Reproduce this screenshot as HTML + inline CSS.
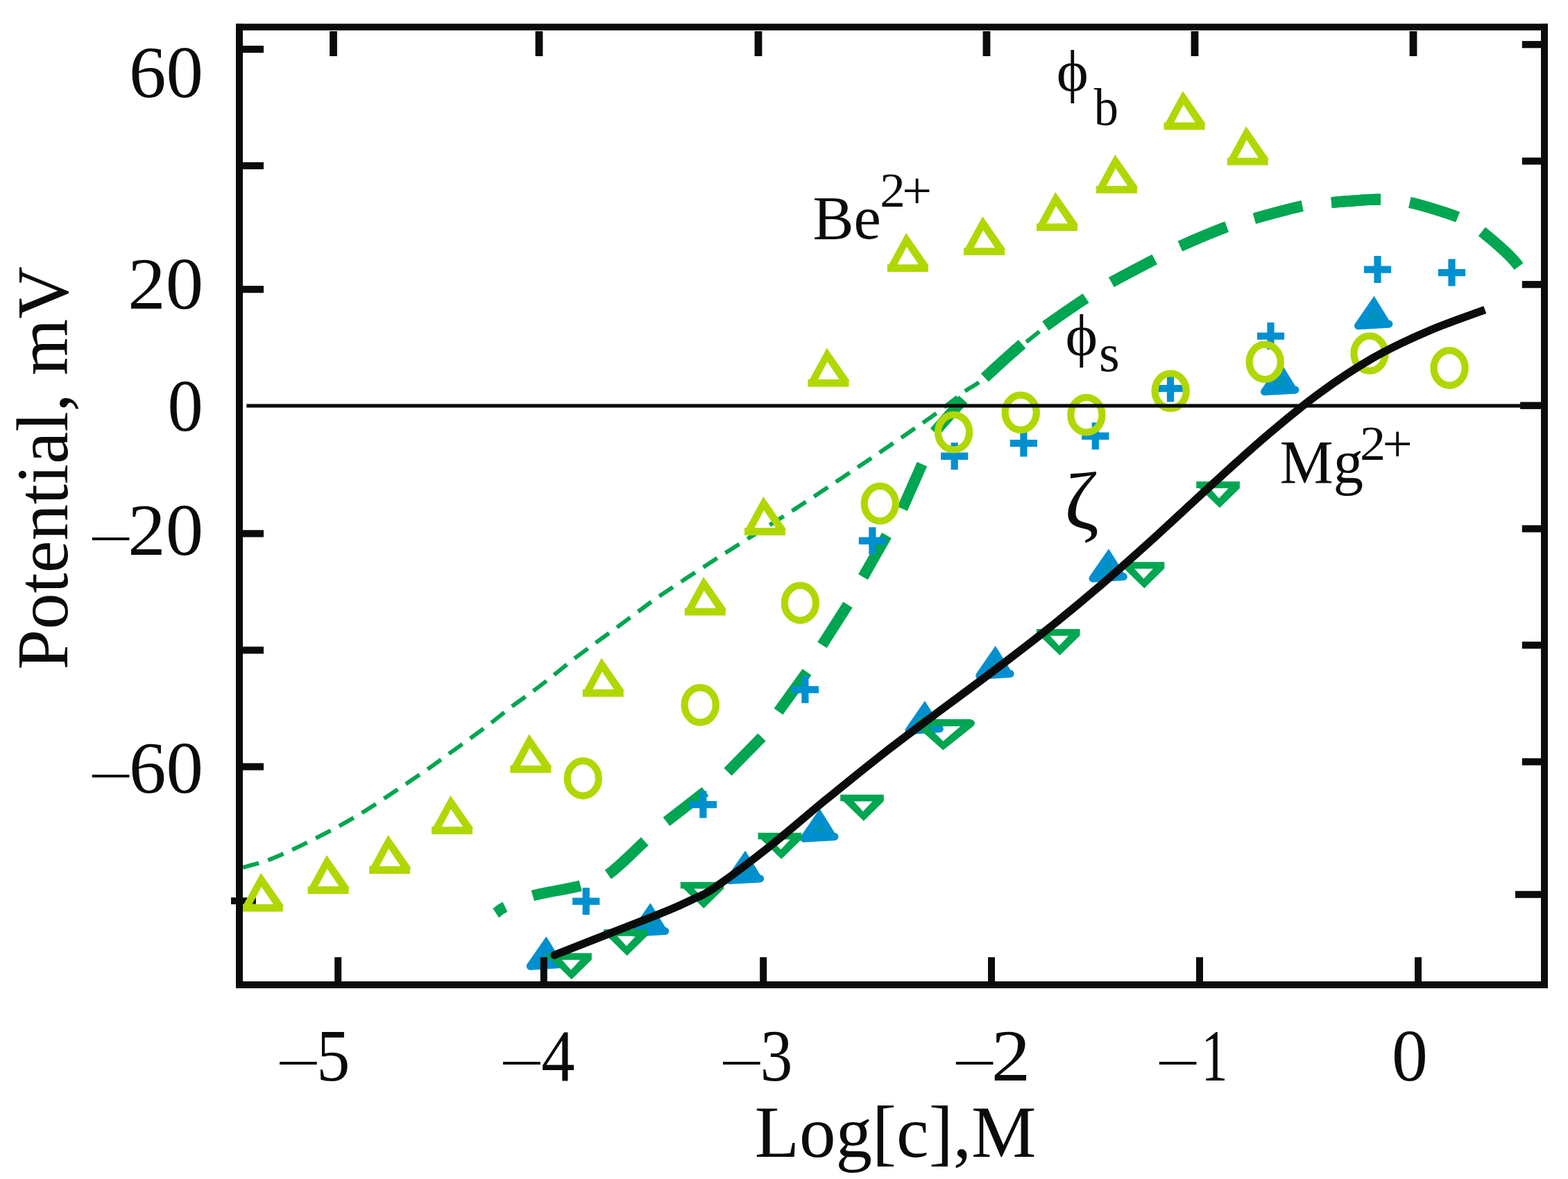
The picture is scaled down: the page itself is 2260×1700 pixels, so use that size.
<!DOCTYPE html>
<html lang="en"><head><meta charset="utf-8"><title>Potential vs Log[c]</title>
<style>html,body{margin:0;padding:0;background:#fff}body{width:2260px;height:1700px;overflow:hidden}svg{display:block}text{font-family:"Liberation Serif","DejaVu Serif",serif;font-kerning:none;white-space:pre}</style>
</head><body>
<svg width="2260" height="1700" viewBox="0 0 2260 1700" role="img" aria-label="Potential (mV) versus Log[c], M for Be2+ and Mg2+">
<rect width="2260" height="1700" fill="#fff"/>
<g fill="none" stroke="#00a651" stroke-width="15.8">
<path d="M714.8,1316.6C717.0,1315.1 719.2,1311.8 728.0,1307.6"/>
<path d="M767.8,1291.5C785.9,1286.4 818.6,1282.2 836.7,1277.1"/>
<path d="M876.3,1261.1C891.7,1250.4 915.3,1225.9 929.3,1213.2"/>
<path d="M960.5,1184.8L1016.5,1141.3"/>
<path d="M1049.0,1113.0L1098.0,1063.0"/>
<path d="M1122.0,1026.0L1163.0,969.0"/>
<path d="M1185.0,930.0L1222.0,872.0"/>
<path d="M1244.0,832.0L1278.0,772.0"/>
<path d="M1300.6,733.6L1329.0,669.3"/>
<path d="M1347.0,623.0L1388.0,576.0"/>
<path d="M1419.5,544.5C1433.7,531.2 1458.4,508.7 1473.0,496.3"/>
<path d="M1507.0,470.0C1522.3,458.9 1549.2,440.5 1565.0,430.0"/>
<path d="M1602.0,407.0C1618.5,397.7 1647.5,382.7 1664.0,374.0"/>
<path d="M1701.0,355.0C1718.3,347.2 1750.2,333.7 1768.0,327.0"/>
<path d="M1808.0,315.0C1826.2,310.0 1858.5,300.8 1877.0,297.0"/>
<path d="M1919.0,292.0C1937.8,290.4 1971.2,287.5 1990.0,287.5"/>
<path d="M2032.0,292.0C2050.5,296.2 2083.7,306.0 2101.0,313.0"/>
<path d="M2136.0,334.0C2150.7,345.8 2175.7,366.0 2189.0,384.0"/>
</g>
<path fill="none" stroke="#00a651" stroke-width="6" stroke-dasharray="24 13.9" stroke-dashoffset="0" d="M350.0,1250.9C356.1,1249.1 374.8,1244.4 386.7,1240.1C398.6,1235.8 410.1,1230.3 421.4,1225.1C432.7,1219.9 443.3,1214.6 454.5,1208.9C465.7,1203.2 477.5,1197.3 488.6,1191.2C499.7,1185.1 510.5,1178.8 521.2,1172.2C531.9,1165.7 542.4,1158.8 552.9,1151.9C563.4,1145.0 573.7,1138.0 584.1,1131.0C594.5,1124.0 604.9,1117.2 615.3,1109.9C625.7,1102.6 636.2,1094.8 646.5,1087.3C656.8,1079.8 667.0,1072.5 677.2,1065.1C687.4,1057.6 697.5,1050.3 707.5,1042.6C717.5,1034.9 727.2,1026.7 737.4,1019.0C747.6,1011.3 758.4,1004.1 768.5,996.5C778.6,988.9 788.6,981.1 798.3,973.4C808.0,965.7 816.8,958.1 826.8,950.4C836.8,942.7 847.8,934.8 858.0,927.3C868.2,919.8 877.6,913.1 887.8,905.6C898.0,898.1 908.5,890.2 919.0,882.5C929.5,874.8 935.0,870.1 950.9,859.2C966.8,848.3 993.6,830.9 1014.6,817.2C1035.6,803.6 1056.0,790.6 1077.0,777.3C1098.0,764.0 1119.5,750.9 1140.7,737.2C1162.0,723.5 1183.5,709.1 1204.5,695.1C1225.5,681.1 1246.0,667.3 1266.9,653.1C1287.8,638.9 1316.1,619.4 1330.1,609.7C1344.1,600.0 1340.7,602.5 1350.9,594.8C1361.2,587.1 1381.6,570.8 1391.6,563.6C1401.5,556.4 1401.7,558.5 1410.6,551.4C1419.5,544.3 1433.7,530.4 1445.0,520.8C1456.3,511.2 1469.5,501.0 1478.7,493.6C1487.9,486.2 1496.5,479.4 1500.0,476.5"/>
<g fill="none" stroke="#00a651" stroke-width="15.8">
<path d="M1347.0,623.0L1388.0,576.0"/>
<path d="M1419.5,544.5C1433.7,531.2 1458.4,508.7 1473.0,496.3"/>
<path d="M1507.0,470.0C1522.3,458.9 1549.2,440.5 1565.0,430.0"/>
<path d="M1602.0,407.0C1618.5,397.7 1647.5,382.7 1664.0,374.0"/>
<path d="M1701.0,355.0C1718.3,347.2 1750.2,333.7 1768.0,327.0"/>
<path d="M1808.0,315.0C1826.2,310.0 1858.5,300.8 1877.0,297.0"/>
<path d="M1919.0,292.0C1937.8,290.4 1971.2,287.5 1990.0,287.5"/>
<path d="M2032.0,292.0C2050.5,296.2 2083.7,306.0 2101.0,313.0"/>
<path d="M2136.0,334.0C2150.7,345.8 2175.7,366.0 2189.0,384.0"/>
</g>
<rect x="333.10" y="1294.20" width="35.80" height="9.50" fill="#0a0c0b"/>
<g fill="#b0d800">
<path fill-rule="evenodd" transform="translate(348.8,1314.6)" d="M0,0 L0,-10.8 L2.6,-10.8 L27.2,-56 L59.9,-9 L58.9,-7.6 L58.9,0 Z M14.6,-10.8 L28,-36.1 L45.1,-10.8 Z"/>
<path fill-rule="evenodd" transform="translate(443.6,1288.9)" d="M0,0 L0,-10.8 L2.6,-10.8 L27.2,-56 L59.9,-9 L58.9,-7.6 L58.9,0 Z M14.6,-10.8 L28,-36.1 L45.1,-10.8 Z"/>
<path fill-rule="evenodd" transform="translate(532.2,1259.9)" d="M0,0 L0,-10.8 L2.6,-10.8 L27.2,-56 L59.9,-9 L58.9,-7.6 L58.9,0 Z M14.6,-10.8 L28,-36.1 L45.1,-10.8 Z"/>
<path fill-rule="evenodd" transform="translate(622.1,1202.9)" d="M0,0 L0,-10.8 L2.6,-10.8 L27.2,-56 L59.9,-9 L58.9,-7.6 L58.9,0 Z M14.6,-10.8 L28,-36.1 L45.1,-10.8 Z"/>
<path fill-rule="evenodd" transform="translate(735.4,1114.6)" d="M0,0 L0,-10.8 L2.6,-10.8 L27.2,-56 L59.9,-9 L58.9,-7.6 L58.9,0 Z M14.6,-10.8 L28,-36.1 L45.1,-10.8 Z"/>
<path fill-rule="evenodd" transform="translate(839.8,1004.7)" d="M0,0 L0,-10.8 L2.6,-10.8 L27.2,-56 L59.9,-9 L58.9,-7.6 L58.9,0 Z M14.6,-10.8 L28,-36.1 L45.1,-10.8 Z"/>
<path fill-rule="evenodd" transform="translate(986.8,887.6)" d="M0,0 L0,-10.8 L2.6,-10.8 L27.2,-56 L59.9,-9 L58.9,-7.6 L58.9,0 Z M14.6,-10.8 L28,-36.1 L45.1,-10.8 Z"/>
<path fill-rule="evenodd" transform="translate(1073.0,771.9)" d="M0,0 L0,-10.8 L2.6,-10.8 L27.2,-56 L59.9,-9 L58.9,-7.6 L58.9,0 Z M14.6,-10.8 L28,-36.1 L45.1,-10.8 Z"/>
<path fill-rule="evenodd" transform="translate(1164.5,557.8)" d="M0,0 L0,-10.8 L2.6,-10.8 L27.2,-56 L59.9,-9 L58.9,-7.6 L58.9,0 Z M14.6,-10.8 L28,-36.1 L45.1,-10.8 Z"/>
<path fill-rule="evenodd" transform="translate(1278.8,392.0)" d="M0,0 L0,-10.8 L2.6,-10.8 L27.2,-56 L59.9,-9 L58.9,-7.6 L58.9,0 Z M14.6,-10.8 L28,-36.1 L45.1,-10.8 Z"/>
<path fill-rule="evenodd" transform="translate(1389.0,368.0)" d="M0,0 L0,-10.8 L2.6,-10.8 L27.2,-56 L59.9,-9 L58.9,-7.6 L58.9,0 Z M14.6,-10.8 L28,-36.1 L45.1,-10.8 Z"/>
<path fill-rule="evenodd" transform="translate(1494.0,333.0)" d="M0,0 L0,-10.8 L2.6,-10.8 L27.2,-56 L59.9,-9 L58.9,-7.6 L58.9,0 Z M14.6,-10.8 L28,-36.1 L45.1,-10.8 Z"/>
<path fill-rule="evenodd" transform="translate(1580.0,278.8)" d="M0,0 L0,-10.8 L2.6,-10.8 L27.2,-56 L59.9,-9 L58.9,-7.6 L58.9,0 Z M14.6,-10.8 L28,-36.1 L45.1,-10.8 Z"/>
<path fill-rule="evenodd" transform="translate(1677.6,187.2)" d="M0,0 L0,-10.8 L2.6,-10.8 L27.2,-56 L59.9,-9 L58.9,-7.6 L58.9,0 Z M14.6,-10.8 L28,-36.1 L45.1,-10.8 Z"/>
<path fill-rule="evenodd" transform="translate(1768.8,238.2)" d="M0,0 L0,-10.8 L2.6,-10.8 L27.2,-56 L59.9,-9 L58.9,-7.6 L58.9,0 Z M14.6,-10.8 L28,-36.1 L45.1,-10.8 Z"/>
</g>
<g fill="#0090d0">
<path transform="translate(844.7,1299.6)" d="M-5.1,-19.5 H5.1 V-5.1 H19.6 V5.2 H5.1 V19.5 H-5.1 V5.2 H-19.6 V-5.1 H-5.1 Z"/>
<path transform="translate(1013.4,1160.0)" d="M-5.1,-19.5 H5.1 V-5.1 H19.6 V5.2 H5.1 V19.5 H-5.1 V5.2 H-19.6 V-5.1 H-5.1 Z"/>
<path transform="translate(1160.4,994.3)" d="M-5.1,-19.5 H5.1 V-5.1 H19.6 V5.2 H5.1 V19.5 H-5.1 V5.2 H-19.6 V-5.1 H-5.1 Z"/>
<path transform="translate(1257.4,779.7)" d="M-5.1,-19.5 H5.1 V-5.1 H19.6 V5.2 H5.1 V19.5 H-5.1 V5.2 H-19.6 V-5.1 H-5.1 Z"/>
<path transform="translate(1375.7,657.7)" d="M-5.1,-19.5 H5.1 V-5.1 H19.6 V5.2 H5.1 V19.5 H-5.1 V5.2 H-19.6 V-5.1 H-5.1 Z"/>
<path transform="translate(1475.4,639.0)" d="M-5.1,-19.5 H5.1 V-5.1 H19.6 V5.2 H5.1 V19.5 H-5.1 V5.2 H-19.6 V-5.1 H-5.1 Z"/>
<path transform="translate(1578.8,628.7)" d="M-5.1,-19.5 H5.1 V-5.1 H19.6 V5.2 H5.1 V19.5 H-5.1 V5.2 H-19.6 V-5.1 H-5.1 Z"/>
<path transform="translate(1687.0,560.0)" d="M-5.1,-19.5 H5.1 V-5.1 H19.6 V5.2 H5.1 V19.5 H-5.1 V5.2 H-19.6 V-5.1 H-5.1 Z"/>
<path transform="translate(1831.5,484.5)" d="M-5.1,-19.5 H5.1 V-5.1 H19.6 V5.2 H5.1 V19.5 H-5.1 V5.2 H-19.6 V-5.1 H-5.1 Z"/>
<path transform="translate(1985.5,388.5)" d="M-5.1,-19.5 H5.1 V-5.1 H19.6 V5.2 H5.1 V19.5 H-5.1 V5.2 H-19.6 V-5.1 H-5.1 Z"/>
<path transform="translate(2092.5,393.0)" d="M-5.1,-19.5 H5.1 V-5.1 H19.6 V5.2 H5.1 V19.5 H-5.1 V5.2 H-19.6 V-5.1 H-5.1 Z"/>
</g>
<g transform="translate(787.3,1350.2)"><path fill="#0090d0" d="M0,0 L-27.2,39.4 L-23,43 L21.4,40.4 L21.3,34.4 Z"/><path fill="none" stroke="#0090d0" stroke-width="11" stroke-linecap="round" d="M-23,43 L21.4,40.4"/><path fill="#0093b8" d="M-0.8,19 L-10.5,34.2 L8.5,34.2 Z"/></g>
<g transform="translate(937.4,1302.1)"><path fill="#0090d0" d="M0,0 L-27.2,39.4 L-23,43 L21.4,40.4 L21.3,34.4 Z"/><path fill="none" stroke="#0090d0" stroke-width="11" stroke-linecap="round" d="M-23,43 L21.4,40.4"/><path fill="#0093b8" d="M-0.8,19 L-10.5,34.2 L8.5,34.2 Z"/></g>
<g transform="translate(1074.2,1226.5)"><path fill="#0090d0" d="M0,0 L-27.2,39.4 L-23,43 L21.4,40.4 L21.3,34.4 Z"/><path fill="none" stroke="#0090d0" stroke-width="11" stroke-linecap="round" d="M-23,43 L21.4,40.4"/><path fill="#0093b8" d="M-0.8,19 L-10.5,34.2 L8.5,34.2 Z"/></g>
<g transform="translate(1181.6,1166.0)"><path fill="#0090d0" d="M0,0 L-27.2,39.4 L-23,43 L21.4,40.4 L21.3,34.4 Z"/><path fill="none" stroke="#0090d0" stroke-width="11" stroke-linecap="round" d="M-23,43 L21.4,40.4"/><path fill="#0093b8" d="M-0.8,19 L-10.5,34.2 L8.5,34.2 Z"/></g>
<g transform="translate(1333.0,1010.4)"><path fill="#0090d0" d="M0,0 L-27.2,39.4 L-23,43 L21.4,40.4 L21.3,34.4 Z"/><path fill="none" stroke="#0090d0" stroke-width="11" stroke-linecap="round" d="M-23,43 L21.4,40.4"/><path fill="#0093b8" d="M-0.8,19 L-10.5,34.2 L8.5,34.2 Z"/></g>
<g transform="translate(1434.8,931.2)"><path fill="#0090d0" d="M0,0 L-27.2,39.4 L-23,43 L21.4,40.4 L21.3,34.4 Z"/><path fill="none" stroke="#0090d0" stroke-width="11" stroke-linecap="round" d="M-23,43 L21.4,40.4"/><path fill="#0093b8" d="M-0.8,19 L-10.5,34.2 L8.5,34.2 Z"/></g>
<g transform="translate(1598.0,791.2)"><path fill="#0090d0" d="M0,0 L-27.2,39.4 L-23,43 L21.4,40.4 L21.3,34.4 Z"/><path fill="none" stroke="#0090d0" stroke-width="11" stroke-linecap="round" d="M-23,43 L21.4,40.4"/><path fill="#0093b8" d="M-0.8,19 L-10.5,34.2 L8.5,34.2 Z"/></g>
<g transform="translate(1845.5,521.8)"><path fill="#0090d0" d="M0,0 L-27.2,39.4 L-23,43 L21.4,40.4 L21.3,34.4 Z"/><path fill="none" stroke="#0090d0" stroke-width="11" stroke-linecap="round" d="M-23,43 L21.4,40.4"/><path fill="#0093b8" d="M-0.8,19 L-10.5,34.2 L8.5,34.2 Z"/></g>
<g transform="translate(1980.5,426.8)"><path fill="#0090d0" d="M0,0 L-27.2,39.4 L-23,43 L21.4,40.4 L21.3,34.4 Z"/><path fill="none" stroke="#0090d0" stroke-width="11" stroke-linecap="round" d="M-23,43 L21.4,40.4"/><path fill="#0093b8" d="M-0.8,19 L-10.5,34.2 L8.5,34.2 Z"/></g>
<g fill="#00a651">
<path fill-rule="evenodd" transform="translate(790.2,1374.2)" d="M0,0 L62.6,0 L62.6,9.6 L33.6,38 L4.4,9.6 L0,9.6 Z M19.6,9.8 L46.2,9.8 L32.7,24.2 Z"/>
<path fill-rule="evenodd" transform="translate(870.2,1340.0)" d="M0,0 L62.6,0 L62.6,9.6 L33.6,38 L4.4,9.6 L0,9.6 Z M19.6,9.8 L46.2,9.8 L32.7,24.2 Z"/>
<path fill-rule="evenodd" transform="translate(980.8,1271.7)" d="M0,0 L62.6,0 L62.6,9.6 L33.6,38 L4.4,9.6 L0,9.6 Z M19.6,9.8 L46.2,9.8 L32.7,24.2 Z"/>
<path fill-rule="evenodd" transform="translate(1092.6,1200.7)" d="M0,0 L62.6,0 L62.6,9.6 L33.6,38 L4.4,9.6 L0,9.6 Z M19.6,9.8 L46.2,9.8 L32.7,24.2 Z"/>
<path fill-rule="evenodd" transform="translate(1211.2,1145.7)" d="M0,0 L62.6,0 L62.6,9.6 L33.6,38 L4.4,9.6 L0,9.6 Z M19.6,9.8 L46.2,9.8 L32.7,24.2 Z"/>
<path fill-rule="evenodd" transform="translate(1493.9,906.9)" d="M0,0 L62.6,0 L62.6,9.6 L33.6,38 L4.4,9.6 L0,9.6 Z M19.6,9.8 L46.2,9.8 L32.7,24.2 Z"/>
<path fill-rule="evenodd" transform="translate(1615.7,810.2)" d="M0,0 L62.6,0 L62.6,9.6 L33.6,38 L4.4,9.6 L0,9.6 Z M19.6,9.8 L46.2,9.8 L32.7,24.2 Z"/>
<path fill-rule="evenodd" transform="translate(1724.3,694.3)" d="M0,0 L62.6,0 L62.6,9.6 L33.6,38 L4.4,9.6 L0,9.6 Z M19.6,9.8 L46.2,9.8 L32.7,24.2 Z"/>
<path fill-rule="evenodd" d="M1322,1037 L1398.5,1037 Q1408,1039.5 1403.5,1046.5 L1359.3,1081.7 L1322,1048.5 Z M1338.3,1047.2 L1384.4,1047.2 L1359.3,1068.8 Z"/>
</g>
<g fill="none" stroke="#b0d800" stroke-width="10.2">
<ellipse cx="840.3" cy="1122.4" rx="22.6" ry="25.2"/>
<ellipse cx="1009.2" cy="1016.5" rx="22.6" ry="25.2"/>
<ellipse cx="1153.4" cy="869.4" rx="22.6" ry="25.2"/>
<ellipse cx="1268.3" cy="726.1" rx="22.6" ry="25.2"/>
<ellipse cx="1374.6" cy="623.3" rx="22.6" ry="25.2"/>
<ellipse cx="1471.2" cy="594.8" rx="22.6" ry="25.2"/>
<ellipse cx="1565.9" cy="598.3" rx="22.6" ry="25.2"/>
<ellipse cx="1687.2" cy="563.7" rx="22.6" ry="25.2"/>
<ellipse cx="1823.2" cy="521.9" rx="22.6" ry="25.2"/>
<ellipse cx="1974.0" cy="509.6" rx="22.6" ry="25.2"/>
<ellipse cx="2089.1" cy="530.6" rx="22.6" ry="25.2"/>
</g>
<path fill="none" stroke="#0a0c0b" stroke-width="11.4" d="M797.6,1377.8C811.3,1372.4 852.9,1356.0 880.0,1345.4C907.1,1334.8 940.0,1322.2 960.0,1314.0C980.0,1305.8 988.3,1301.7 1000.0,1296.0C1011.7,1290.3 1011.8,1292.5 1030.0,1279.9C1048.2,1267.3 1082.8,1241.5 1109.2,1220.6C1135.6,1199.7 1162.0,1176.3 1188.4,1154.7C1214.8,1133.1 1241.2,1111.6 1267.6,1090.9C1294.0,1070.2 1320.4,1050.6 1346.8,1030.8C1373.2,1011.0 1399.6,991.9 1426.0,971.9C1452.4,951.9 1478.8,932.0 1505.2,911.0C1531.6,890.0 1558.0,868.2 1584.4,845.6C1610.8,823.0 1637.2,799.2 1663.6,775.4C1690.0,751.5 1716.4,726.5 1742.8,702.5C1769.2,678.5 1795.6,653.8 1822.0,631.3C1848.4,608.8 1874.8,586.6 1901.2,567.3C1927.6,548.0 1954.0,530.4 1980.4,515.3C2006.8,500.2 2032.9,488.3 2059.6,476.9C2086.2,465.4 2126.9,451.7 2140.3,446.6"/>
<circle cx="799.1" cy="1377.2" r="5.7" fill="#0a0c0b"/>
<rect x="355.30" y="582.50" width="1836.70" height="5.20" fill="#0a0c0b"/>
<rect x="340.00" y="34.20" width="1891.00" height="9.60" fill="#0a0c0b"/>
<rect x="340.00" y="1415.00" width="1891.00" height="10.00" fill="#0a0c0b"/>
<rect x="340.00" y="34.20" width="10.00" height="1390.80" fill="#0a0c0b"/>
<rect x="2221.00" y="34.20" width="10.00" height="1390.80" fill="#0a0c0b"/>
<rect x="475.10" y="45.00" width="10.80" height="36.00" fill="#0a0c0b"/>
<rect x="771.60" y="45.00" width="10.80" height="36.00" fill="#0a0c0b"/>
<rect x="1087.60" y="45.00" width="10.80" height="36.00" fill="#0a0c0b"/>
<rect x="1416.60" y="45.00" width="10.80" height="36.00" fill="#0a0c0b"/>
<rect x="1716.60" y="45.00" width="10.80" height="36.00" fill="#0a0c0b"/>
<rect x="2031.60" y="45.00" width="10.80" height="36.00" fill="#0a0c0b"/>
<rect x="482.20" y="1380.20" width="10.00" height="34.80" fill="#0a0c0b"/>
<rect x="778.80" y="1380.20" width="10.00" height="34.80" fill="#0a0c0b"/>
<rect x="1095.20" y="1380.20" width="10.00" height="34.80" fill="#0a0c0b"/>
<rect x="1424.00" y="1380.20" width="10.00" height="34.80" fill="#0a0c0b"/>
<rect x="1724.00" y="1380.20" width="10.00" height="34.80" fill="#0a0c0b"/>
<rect x="2039.00" y="1380.20" width="10.00" height="34.80" fill="#0a0c0b"/>
<rect x="350.00" y="65.90" width="30.00" height="10.20" fill="#0a0c0b"/>
<rect x="350.00" y="233.90" width="30.00" height="10.20" fill="#0a0c0b"/>
<rect x="350.00" y="412.10" width="30.00" height="10.20" fill="#0a0c0b"/>
<rect x="350.00" y="764.30" width="30.00" height="10.20" fill="#0a0c0b"/>
<rect x="350.00" y="932.40" width="30.00" height="10.20" fill="#0a0c0b"/>
<rect x="350.00" y="1100.40" width="30.00" height="10.20" fill="#0a0c0b"/>
<rect x="2193.80" y="59.10" width="27.20" height="10.20" fill="#0a0c0b"/>
<rect x="2193.80" y="227.20" width="27.20" height="10.20" fill="#0a0c0b"/>
<rect x="2193.80" y="405.10" width="27.20" height="10.20" fill="#0a0c0b"/>
<rect x="2193.80" y="757.30" width="27.20" height="10.20" fill="#0a0c0b"/>
<rect x="2193.80" y="925.20" width="27.20" height="10.20" fill="#0a0c0b"/>
<rect x="2193.80" y="1093.30" width="27.20" height="10.20" fill="#0a0c0b"/>
<rect x="2191.10" y="579.60" width="29.90" height="10.30" fill="#0a0c0b"/>
<rect x="2184.00" y="1284.70" width="37.00" height="10.10" fill="#0a0c0b"/>
<rect x="333.10" y="1294.20" width="6.90" height="9.50" fill="#0a0c0b"/>
<text fill="#0a0c0b"><tspan x="186.11" y="140.00" font-size="105" textLength="106.86" lengthAdjust="spacingAndGlyphs">60</tspan></text>
<text fill="#0a0c0b"><tspan x="184.22" y="445.20" font-size="105" textLength="108.83" lengthAdjust="spacingAndGlyphs">20</tspan></text>
<text fill="#0a0c0b"><tspan x="241.60" y="620.80" font-size="105" textLength="51.20" lengthAdjust="spacingAndGlyphs">0</tspan></text>
<text fill="#0a0c0b"><tspan x="133.61" y="795.61" font-size="82" textLength="52.27" lengthAdjust="spacingAndGlyphs">–</tspan><tspan x="184.22" y="800.30" font-size="105" textLength="108.83" lengthAdjust="spacingAndGlyphs">20</tspan></text>
<text fill="#0a0c0b"><tspan x="133.61" y="1137.61" font-size="82" textLength="52.27" lengthAdjust="spacingAndGlyphs">–</tspan><tspan x="186.11" y="1142.80" font-size="105" textLength="106.86" lengthAdjust="spacingAndGlyphs">60</tspan></text>
<text fill="#0a0c0b"><tspan x="403.81" y="1552.41" font-size="82" textLength="52.27" lengthAdjust="spacingAndGlyphs">–</tspan><tspan x="456.30" y="1558.00" font-size="105" textLength="48.16" lengthAdjust="spacingAndGlyphs">5</tspan></text>
<text fill="#0a0c0b"><tspan x="725.82" y="1552.41" font-size="82" textLength="52.37" lengthAdjust="spacingAndGlyphs">–</tspan><tspan x="780.21" y="1557.90" font-size="105" textLength="48.30" lengthAdjust="spacingAndGlyphs">4</tspan></text>
<text fill="#0a0c0b"><tspan x="1042.81" y="1552.41" font-size="82" textLength="52.27" lengthAdjust="spacingAndGlyphs">–</tspan><tspan x="1095.74" y="1558.00" font-size="105" textLength="46.60" lengthAdjust="spacingAndGlyphs">3</tspan></text>
<text fill="#0a0c0b"><tspan x="1378.61" y="1552.41" font-size="82" textLength="52.27" lengthAdjust="spacingAndGlyphs">–</tspan><tspan x="1428.83" y="1557.90" font-size="105" textLength="56.50" lengthAdjust="spacingAndGlyphs">2</tspan></text>
<text fill="#0a0c0b"><tspan x="1671.61" y="1552.41" font-size="82" textLength="52.27" lengthAdjust="spacingAndGlyphs">–</tspan><tspan x="1731.51" y="1557.90" font-size="105" textLength="38.06" lengthAdjust="spacingAndGlyphs">1</tspan></text>
<text fill="#0a0c0b"><tspan x="2005.95" y="1558.00" font-size="105" textLength="51.91" lengthAdjust="spacingAndGlyphs">0</tspan></text>
<text fill="#0a0c0b"><tspan x="1087.87" y="1667.50" font-size="105" textLength="405.50" lengthAdjust="spacingAndGlyphs">Log[c],M</tspan></text>
<text fill="#0a0c0b"><tspan x="1171.45" y="343.90" font-size="88" textLength="98.32" lengthAdjust="spacingAndGlyphs">Be</tspan><tspan x="1268.39" y="297.60" font-size="69.3" textLength="36.54" lengthAdjust="spacingAndGlyphs">2</tspan><tspan x="1300.21" y="300.00" font-size="77" textLength="42.90" lengthAdjust="spacingAndGlyphs">+</tspan></text>
<text fill="#0a0c0b"><tspan x="1844.71" y="695.70" font-size="88" textLength="120.24" lengthAdjust="spacingAndGlyphs">Mg</tspan><tspan x="1960.03" y="662.60" font-size="69" textLength="37.17" lengthAdjust="spacingAndGlyphs">2</tspan><tspan x="1992.47" y="664.60" font-size="75.5" textLength="43.39" lengthAdjust="spacingAndGlyphs">+</tspan></text>
<text fill="#0a0c0b"><tspan x="1522.85" y="130.60" font-size="84.6" textLength="46.09" lengthAdjust="spacingAndGlyphs">ϕ</tspan><tspan x="1576.80" y="179.60" font-size="77" textLength="35.18" lengthAdjust="spacingAndGlyphs">b</tspan></text>
<text fill="#0a0c0b"><tspan x="1535.41" y="511.70" font-size="84.7" textLength="46.66" lengthAdjust="spacingAndGlyphs">ϕ</tspan><tspan x="1584.07" y="534.80" font-size="76" textLength="29.68" lengthAdjust="spacingAndGlyphs">s</tspan></text>
<text fill="#0a0c0b"><tspan x="1533.96" y="762.00" font-size="115.8" textLength="49.95" lengthAdjust="spacingAndGlyphs">ζ</tspan></text>
<text transform="translate(96.8,965.72) rotate(-90) scale(0.9973,1)" font-size="105" fill="#0a0c0b">Potential, mV</text>
</svg>
</body></html>
